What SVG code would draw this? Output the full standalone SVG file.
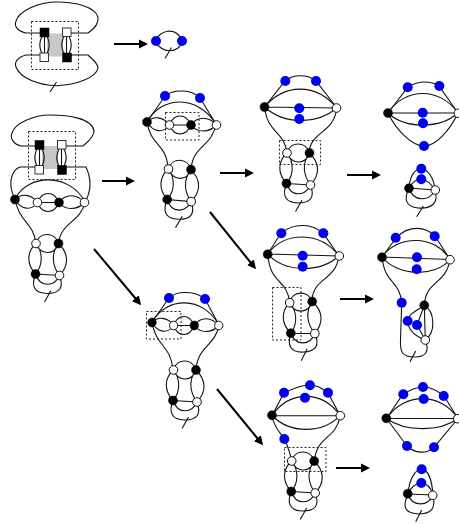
<svg xmlns="http://www.w3.org/2000/svg" width="459" height="524" viewBox="0 0 459 524">
<style>
.l{fill:none;stroke:#111;stroke-width:1.1}
.d{fill:none;stroke:#222;stroke-width:1;stroke-dasharray:2 2}
.k{fill:#000;stroke:#000;stroke-width:.5}
.w{fill:#fff;stroke:#111;stroke-width:1}
.b{fill:#0000f0}
.a{fill:none;stroke:#000;stroke-width:2;marker-end:url(#h)}
.g{fill:#c8c8c8}
.sw{fill:#fff;stroke:#333;stroke-width:1}
</style>
<defs>
<marker id="h" markerUnits="userSpaceOnUse" markerWidth="10" markerHeight="10" refX="1" refY="5" orient="auto"><path d="M0 .5L9 5L0 9.500z" fill="#000"/></marker>
<g id="lobe">
<path class="l" d="M0 0C3 -12 19 -12 22.500 0M0 0C4 11 18 13 22.500 0M0 0C-9 8 -10 20 -.5 30.500M0 0C7 9 7 22 -.5 30.500M22.500 0C33 10 33 22 23.500 32M22.500 0C15 10 16 22 23.500 32M-.5 30.500L23.500 32M-.5 30.500C4 44 18 44 23.500 32M-.5 30.500C-5 42 -2 50 11 50C24 50 28 44 23.500 32"/>
<path class="l" d="M15 47L8.500 58.500"/>
<circle class="w" r="4.300"/><circle class="k" cx="22.500" r="4.500"/><circle class="k" cx="-.5" cy="30.500" r="4.500"/><circle class="w" cx="23.500" cy="32" r="4.300"/>
</g>
<g id="chain">
<path class="l" d="M0 0C6 -6 16 -6 22.500 3M0 0C6 10 16 12 22.500 3M22.500 3C27 -9 39 -9 44 3M22.500 3C27 15 39 15 44 3M22.500 3L44 3M44 3C50 -6 62 -6 69.500 3M44 3C50 11 62 11 69.500 3"/>
<circle class="k" r="4.500"/><circle class="w" cx="22.500" cy="3" r="4.300"/><circle class="k" cx="44" cy="3" r="4.500"/><circle class="w" cx="69.500" cy="3" r="4.300"/>
</g>
<g id="gate">
<rect class="g" x="2.500" y="1" width="16" height="23"/>
<path class="l" d="M0 0C-6 8 -6 17 0 25M0 0C6 8 6 17 0 25M0 0V25M22 0C16 8 16 17 22 25M22 0C28 8 28 17 22 25M22 0V25"/>
<rect class="k" x="-4.500" y="-4.500" width="9" height="9"/><rect class="sw" x="18" y="-4.500" width="8.500" height="8.500"/>
<rect class="sw" x="-4.500" y="20.500" width="8.500" height="8.500"/><rect class="k" x="18" y="20.500" width="9" height="9"/>
</g>
</defs>

<g id="connectors">
<path class="a" d="M114 44H140"/>
<path class="a" d="M102 181H127"/>
<path class="a" d="M94 249L136 299"/>
<path class="a" d="M220 173H246"/>
<path class="a" d="M210 212L251 263"/>
<path class="a" d="M347 175H373"/>
<path class="a" d="M340 299H366"/>
<path class="a" d="M217 389L258 439"/>
<path class="a" d="M336 468H362"/>
</g>

<g id="figure-a">
<path class="l" d="M40 33H26C17 31 14 26 16 21C19 11 38 2 57 2C76 2 95 7 98 17C99 24 94 29 88 33H70"/>
<path class="l" d="M40 55H26C18 57 14 62 16 67C20 78 38 85 57 85.700C76 85 96 78 98 68C98 63 93 60 88 55H70"/>
<path class="l" d="M56.500 82L50 92"/>
<use href="#gate" x="44.500" y="32.500"/>
<rect class="d" x="31.500" y="21.500" width="47" height="48"/>
</g>

<g id="figure-result-a">
<path class="l" d="M156 41C158 31 176 25 182 41M156 41C160 54 180 54 182 41M171.500 47.500L165 58.500"/>
<circle class="b" cx="156" cy="41" r="5"/><circle class="b" cx="182" cy="41" r="5"/>
</g>

<g id="figure-b">
<path class="l" d="M35 146H21C13 144 10 138 12 133C15 123 34 115 50 115C68 115 92 118 94 131C94 137 88 142 83 146H66"/>
<path class="l" d="M35 167H20C12 170 10 180 11 187C12 192 13 196 15 199M66 167H86C91 178 92 190 85 202"/>
<path class="l" d="M15 199C28 173 70 173 85 202M15 199C19 222 33 222 36 243M85 202C81 222 61 222 58.500 243"/>
<use href="#chain" x="15" y="199.500"/>
<use href="#lobe" x="36" y="243.500"/>
<use href="#gate" x="39.500" y="145"/>
<rect class="d" x="28.500" y="131.500" width="47" height="48"/>
</g>

<g id="figure-c">
<path class="l" d="M147 122L165 96C173 89 192 89 200 98L216 124"/>
<path class="l" d="M147 122C162 95 198 95 216 124M147 122C151 147 166 142 168 168M216 124C212 147 193 145 191 169"/>
<use href="#chain" x="147" y="122"/>
<use href="#lobe" transform="translate(168.500 169) rotate(1.500)"/>
<rect class="d" x="165.500" y="112.500" width="33.500" height="27.500"/>
<circle class="b" cx="165" cy="96" r="5"/><circle class="b" cx="200" cy="98" r="5"/>
</g>

<g id="figure-h">
<path class="l" d="M152 322L169 298C177 290 196 291 205 299L219 325"/>
<path class="l" d="M152 322C167 296 203 296 219 325M152 322C156 347 171 345 173 370M219 325C215 347 198 345 196 370"/>
<use href="#chain" transform="translate(152 322.500) scale(.96 1)"/>
<use href="#lobe" x="173.500" y="370"/>
<rect class="d" x="146.500" y="311.500" width="34.500" height="27.500"/>
<circle class="b" cx="169" cy="298" r="5"/><circle class="b" cx="205" cy="299" r="5"/>
</g>

<g id="figure-d">
<path class="l" d="M264.500 107L285 81C293 74 308 74 316 81L337 108"/>
<path class="l" d="M264.500 107L337 108M264.500 107C285 83 316 83 337 108M264.500 107C285 125 316 125 337 108M264.500 107C268 135 284 130 287 153M337 108C333 135 311 130 308.500 154"/>
<use href="#lobe" x="287" y="153"/>
<circle class="k" cx="264.500" cy="107" r="4.500"/><circle class="w" cx="336.500" cy="108" r="4.300"/>
<rect class="d" x="279.500" y="140.500" width="41" height="24"/>
<circle class="b" cx="285.300" cy="81" r="5"/><circle class="b" cx="316" cy="81" r="5"/><circle class="b" cx="299.300" cy="108.300" r="5"/><circle class="b" cx="299.300" cy="119" r="5"/>
</g>

<g id="figure-e">
<path class="l" d="M388 113L408 87C417 81 430 80 439 86L458 113"/>
<path class="l" d="M388 113L458 113M388 113C405 87 440 87 458 113M388 113C405 129 440 129 458 113M388 113C396 130 412 146 424 146C436 146 450 130 458 113"/>
<circle class="k" cx="388" cy="113" r="4.500"/><circle class="w" cx="458.300" cy="113.300" r="4.300"/>
<circle class="b" cx="407.700" cy="87.300" r="5"/><circle class="b" cx="439.300" cy="86" r="5"/><circle class="b" cx="422.700" cy="112.700" r="5"/><circle class="b" cx="423" cy="123.300" r="5"/><circle class="b" cx="424" cy="146" r="5"/>
<path class="l" d="M409 188C410 175 415 169 421 169C428 169 434 178 435 190M409 188C412 183 416 179 421 179C428 180 432 185 435 190M409 188L435 190M409 188C413 202 430 202 435 190M409 188C404 198 405 207 418 208C432 209 439 203 435 190M423.300 206L416.700 216.700"/>
<circle class="k" cx="409" cy="188.300" r="4.500"/><circle class="w" cx="435.300" cy="190" r="4.300"/>
<circle class="b" cx="421.300" cy="168.700" r="5"/><circle class="b" cx="421.300" cy="179.300" r="5"/>
</g>

<g id="figure-f">
<path class="l" d="M267.700 254L281 233C295 222 312 224 323 233L339 256"/>
<path class="l" d="M267.700 254L339 256M267.700 254C285 231 320 231 339 256M267.700 254C285 273 320 273 339 256M267.700 254C270 285 287 278 289.700 302.700M339 256C335 282 314 276 311.700 301"/>
<use href="#lobe" transform="translate(289.700 302.700) rotate(-3)"/>
<circle class="k" cx="267.700" cy="254.300" r="4.500"/><circle class="w" cx="339.300" cy="256" r="4.300"/>
<rect class="d" x="272.500" y="287.500" width="28.500" height="52.500"/>
<circle class="b" cx="281.300" cy="233.300" r="5"/><circle class="b" cx="323.300" cy="233.300" r="5"/><circle class="b" cx="302.700" cy="255.700" r="5"/><circle class="b" cx="302.700" cy="266.700" r="5"/>
</g>

<g id="figure-g">
<path class="l" d="M382 257L396 238C408 225 425 226 435 236L450 259.500"/>
<path class="l" d="M382 257L450 259.500M382 257C397 235 435 234 450 259.500M382 257C397 276 435 278 450 259.500M382 257C385 285 400 280 401.700 303M450 259.500C446 285 426 280 424.300 305"/>
<path class="l" d="M401.700 303L400.500 340C400 352 402 357 415 357C425 357 430 352 425.300 340"/>
<path class="l" d="M415.700 351L410 361.700"/>
<path class="l" d="M424.300 305.300C415 312 408 314 407.700 321C408 330 415 336 425.300 340M424.300 305.300L417 325L425.300 340M424.300 305.300L425.300 340M424.300 305.300C435 312 436 332 425.300 340"/>
<circle class="k" cx="382" cy="257.300" r="4.500"/><circle class="w" cx="450" cy="259.700" r="4.300"/>
<circle class="k" cx="424.300" cy="305.300" r="4.500"/><circle class="w" cx="425.300" cy="340" r="4.300"/>
<circle class="b" cx="395.700" cy="237.700" r="5"/><circle class="b" cx="434.700" cy="236.300" r="5"/><circle class="b" cx="417" cy="257.300" r="5"/><circle class="b" cx="416.700" cy="269.300" r="5"/><circle class="b" cx="401.700" cy="302.700" r="5"/><circle class="b" cx="407.700" cy="321" r="5"/><circle class="b" cx="417" cy="325" r="5"/>
</g>

<g id="figure-i">
<path class="l" d="M272 415.500L284 393C292 389 302 385 310 385C318 385 322 389 328 393L340.300 415.700"/>
<path class="l" d="M272 415.500L340.300 415.700M272 415.500C290 390 322 390 340.300 415.700M272 415.500C290 434 322 434 340.300 415.700M272 415.500C274 428 280 432 284.300 439C288 447 290 452 291.700 461M340.300 415.700C336 440 317 435 314.300 461"/>
<use href="#lobe" x="291.700" y="461"/>
<circle class="k" cx="272" cy="415.300" r="4.500"/><circle class="w" cx="340.300" cy="415.700" r="4.300"/>
<rect class="d" x="284.500" y="447.500" width="41.500" height="24"/>
<circle class="b" cx="284" cy="392.700" r="5"/><circle class="b" cx="310" cy="385.300" r="5"/><circle class="b" cx="328" cy="392.700" r="5"/><circle class="b" cx="305" cy="397.700" r="5"/><circle class="b" cx="284.300" cy="439" r="5"/>
</g>

<g id="figure-j">
<path class="l" d="M386.500 418.500L403 394C410 390 416 387 423 387C431 387 438 391 444 396L458 418.500"/>
<path class="l" d="M386.500 418.500L458 418.500M386.500 418.500C405 392 440 392 458 418.500M386.500 418.500C405 432 440 432 458 418.500M386.500 418.500L407 446C415 454 427 454 434 447.300L458 418.500"/>
<circle class="k" cx="386.300" cy="418.300" r="4.500"/><circle class="w" cx="457.700" cy="418.700" r="4.300"/>
<circle class="b" cx="403.300" cy="394.300" r="5"/><circle class="b" cx="423" cy="387" r="5"/><circle class="b" cx="443.700" cy="396" r="5"/><circle class="b" cx="423.700" cy="399" r="5"/><circle class="b" cx="407" cy="446" r="5"/><circle class="b" cx="434" cy="447.300" r="5"/>
<path class="l" d="M408 494C409 480 415 469 422 469C428 470 432 480 433 495M408 494C410 488 416 483 421 483C427 483 431 488 433 495M408 494L433 495M408 494C412 507 428 507 433 495M408 494C403 505 403 513 418 514C432 514 436 508 433 495M421.700 510L415.700 521.700"/>
<circle class="k" cx="407.700" cy="493.700" r="4.500"/><circle class="w" cx="432.700" cy="495.300" r="4.300"/>
<circle class="b" cx="421.700" cy="469.300" r="5"/><circle class="b" cx="421.300" cy="483" r="5"/>
</g>
</svg>
